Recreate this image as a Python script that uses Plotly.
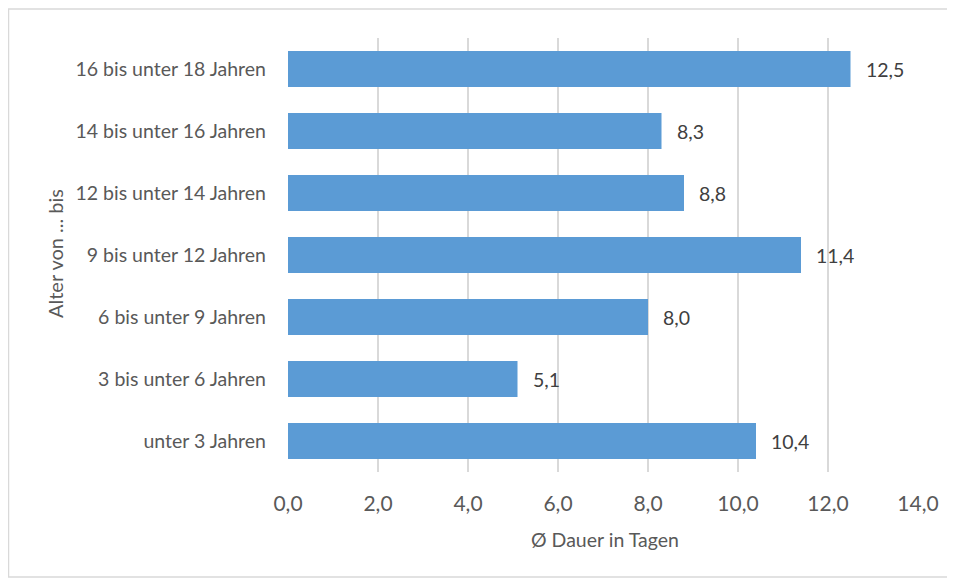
import plotly.graph_objects as go

categories = ["unter 3 Jahren", "3 bis unter 6 Jahren", "6 bis unter 9 Jahren",
              "9 bis unter 12 Jahren", "12 bis unter 14 Jahren",
              "14 bis unter 16 Jahren", "16 bis unter 18 Jahren"]
values = [10.4, 5.1, 8.0, 11.4, 8.8, 8.3, 12.5]
x_ticks = [0, 2, 4, 6, 8, 10, 12, 14]
x_tick_labels = ["0,0", "2,0", "4,0", "6,0", "8,0", "10,0", "12,0", "14,0"]
value_labels = [f"{v:.1f}".replace(".", ",") for v in values]

FONT = "Lato, Carlito, Calibri, sans-serif"
GREY = "#595959"

fig = go.Figure(go.Bar(
    x=values, y=categories, orientation="h",
    marker=dict(color="#5B9BD5", line=dict(width=0)),
    hoverinfo="skip",
))

for v, c, t in zip(values, categories, value_labels):
    fig.add_annotation(x=v, y=c, text=t, xanchor="left", xshift=13,
                       showarrow=False, font=dict(family=FONT, size=19.5, color="#404040"))

# page body has an 8px margin, so the figure is drawn 8px in from the window edge
W, H = 947, 571
L, R, T, B = 280, 37, 30, 107
pw, ph = W - L - R, H - T - B

def px(xf):
    return (xf - L) / pw

def py(yf):
    return (H - B - yf) / ph

fig.add_shape(type="rect", xref="paper", yref="paper",
              x0=px(0.5), x1=px(945), y0=py(569), y1=py(1),
              line=dict(color="#D9D9D9", width=1.5), layer="below")

fig.add_annotation(xref="paper", yref="paper", x=px(47), y=py(246),
                   text="Alter von ... bis", textangle=-90, showarrow=False,
                   xanchor="center", yanchor="middle",
                   font=dict(family=FONT, size=20, color=GREY))
fig.add_annotation(xref="paper", yref="paper", x=px(597), y=py(531),
                   text="Ø Dauer in Tagen", showarrow=False,
                   xanchor="center", yanchor="middle",
                   font=dict(family=FONT, size=19.5, color=GREY))

fig.update_layout(
    width=W, height=H,
    margin=dict(l=L, r=R, t=T, b=B),
    paper_bgcolor="white", plot_bgcolor="white",
    bargap=0.42,
    showlegend=False,
    font=dict(family=FONT, color=GREY),
    xaxis=dict(
        range=[0, 14], tickvals=x_ticks, ticktext=x_tick_labels,
        showgrid=True, gridcolor="#D9D9D9", gridwidth=1.5,
        zeroline=False, showline=False, ticks="",
        tickfont=dict(family=FONT, size=21, color=GREY),
        ticklabelstandoff=17,
    ),
    yaxis=dict(
        categoryorder="array", categoryarray=categories,
        range=[-0.5, 6.5],
        showgrid=False, zeroline=False, showline=False, ticks="",
        tickfont=dict(family=FONT, size=19.5, color=GREY),
        ticklabelstandoff=21,
    ),
)

fig.write_html("out.html")
